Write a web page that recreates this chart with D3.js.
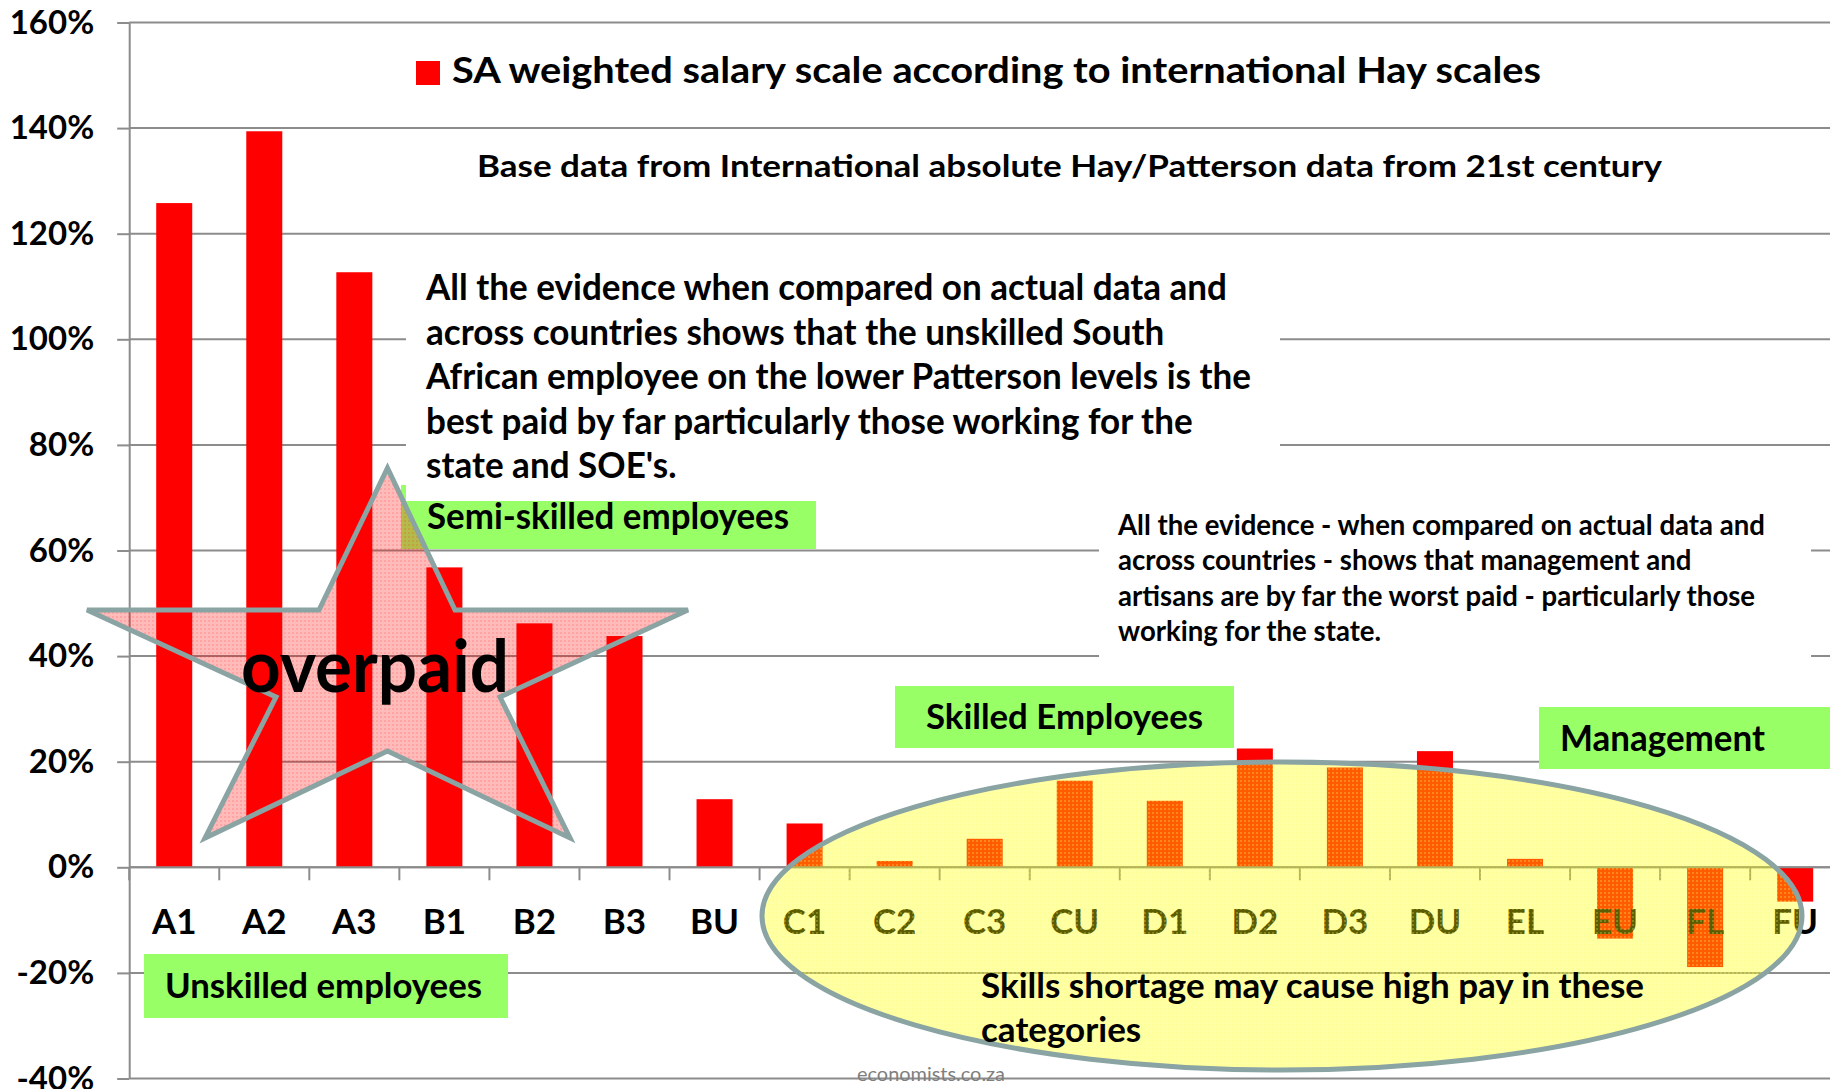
<!DOCTYPE html>
<html>
<head>
<meta charset="utf-8">
<script src="https://cdn.jsdelivr.net/npm/d3@7"></script>
<style>
  body { margin: 0; background: #fff; }
  text { font-family: Lato, "Open Sans", sans-serif; }
</style>
</head>
<body>
<div id="graph-container"></div>
<script>
const categories = ['A1','A2','A3','B1','B2','B3','BU','C1','C2','C3','CU','D1','D2','D3','DU','EL','EU','FL','FU'];
const values = [125.8, 139.4, 112.7, 56.8, 46.2, 43.8, 12.9, 8.3, 1.2, 5.4, 16.4, 12.6, 22.5, 18.9, 22.0, 1.6, -13.5, -18.9, -6.5];
const yTicks = [-40, -20, 0, 20, 40, 60, 80, 100, 120, 140, 160];
const seriesName = 'SA weighted salary scale according to international Hay scales';
const subtitle = 'Base data from International absolute Hay/Patterson data from 21st century';
const noteLeft = ['All the evidence when compared on actual data and',
  'across countries shows that the unskilled South',
  'African employee on the lower Patterson levels is the',
  'best paid by far particularly those working for the',
  "state and SOE's."];
const noteRight = ['All the evidence - when compared on actual data and',
  'across countries - shows that management and',
  'artisans are by far the worst paid - particularly those',
  'working for the state.'];
const noteShortage = ['Skills shortage may cause high pay in these', 'categories'];

const main = () => {
  const width = 1830;
  const height = 1089;
  const GRID = '#8c8c8c';
  const GREEN = '#99ff66';
  const SHAPE = '#8aa3a3';
  const dataToJoin = [1];

  const svg = d3.select('#graph-container').selectAll('svg#svg-container')
    .data(dataToJoin)
    .join('svg')
    .attr('id', 'svg-container')
    .attr('width', width)
    .attr('height', height)
    .attr('style', 'background:white;display:block');

  const xScale = d3.scaleBand().domain(categories).range([129.2, 1840.2])
    .paddingInner(0.6).paddingOuter(0.3);
  const yScale = d3.scaleLinear().domain([-40, 160]).range([1078.5, 22.5]);
  const step = xScale.step();

  // patterns for the shapes
  const defs = svg.append('defs');
  const starPat = defs.append('pattern').attr('id', 'star-fill')
    .attr('width', 4).attr('height', 4).attr('patternUnits', 'userSpaceOnUse');
  starPat.append('rect').attr('width', 4).attr('height', 4).attr('fill', 'rgba(255,0,0,0.27)');
  starPat.append('rect').attr('width', 2).attr('height', 2).attr('fill', 'rgba(255,0,0,0.12)');
  const ellPat = defs.append('pattern').attr('id', 'ell-fill')
    .attr('width', 4).attr('height', 4).attr('patternUnits', 'userSpaceOnUse');
  ellPat.append('rect').attr('width', 4).attr('height', 4).attr('fill', 'rgba(255,255,0,0.36)');
  ellPat.append('rect').attr('width', 2).attr('height', 2).attr('fill', 'rgba(255,255,120,0.25)');

  // grid lines
  svg.append('g').attr('class', 'grid')
    .selectAll('line')
    .data(yTicks)
    .join('line')
    .attr('x1', xScale.range()[0]).attr('x2', width)
    .attr('y1', d => yScale(d)).attr('y2', d => yScale(d))
    .attr('stroke', GRID).attr('stroke-width', 2);

  // y axis
  const yAxis = svg.append('g')
    .attr('transform', `translate(${xScale.range()[0]},0)`)
    .call(d3.axisLeft(yScale).tickValues(yTicks).tickSize(12).tickSizeOuter(0).tickPadding(23)
      .tickFormat(d => d + '%'));
  yAxis.select('.domain').attr('stroke', GRID).attr('stroke-width', 2);
  yAxis.selectAll('.tick line').attr('stroke', GRID).attr('stroke-width', 2);
  yAxis.selectAll('.tick text')
    .attr('font-size', 33).attr('font-weight', 'bold').attr('fill', '#000')
    .attr('font-family', 'Lato, sans-serif');

  // bars
  svg.append('g').attr('class', 'bars')
    .selectAll('rect')
    .data(values)
    .join('rect')
    .attr('x', (d, i) => xScale(categories[i]))
    .attr('width', xScale.bandwidth())
    .attr('y', d => yScale(Math.max(0, d)))
    .attr('height', d => Math.abs(yScale(d) - yScale(0)))
    .attr('fill', '#ff0000');

  // x axis line and category ticks (between categories)
  const xAxis = svg.append('g').attr('class', 'x-axis');
  xAxis.append('line')
    .attr('x1', xScale.range()[0]).attr('x2', width)
    .attr('y1', yScale(0)).attr('y2', yScale(0))
    .attr('stroke', GRID).attr('stroke-width', 2);
  xAxis.selectAll('line.tick')
    .data(categories)
    .join('line')
    .attr('class', 'tick')
    .attr('x1', d => xScale(d) - step * 0.3).attr('x2', d => xScale(d) - step * 0.3)
    .attr('y1', yScale(0)).attr('y2', yScale(0) + 13)
    .attr('stroke', GRID).attr('stroke-width', 2);
  xAxis.selectAll('text.cat')
    .data(categories)
    .join('text')
    .attr('class', 'cat')
    .attr('x', d => xScale(d) + xScale.bandwidth() / 2)
    .attr('y', 934)
    .attr('text-anchor', 'middle')
    .attr('font-size', 35).attr('font-weight', 'bold')
    .text(d => d);

  const label = (g, str, x, y, size, target, opts = {}) => {
    const t = g.append('text')
      .attr('x', x).attr('y', y)
      .attr('font-size', size)
      .attr('font-weight', opts.weight || 'bold')
      .attr('fill', opts.fill || '#000')
      .text(str);
    if (target) t.attr('textLength', target).attr('lengthAdjust', 'spacingAndGlyphs');
    return t;
  };

  const block = (g, lines, x, y0, lh, size, refIndex, refWidth) => {
    const texts = lines.map((s, i) => label(g, s, x, y0 + i * lh, size));
    const ratio = refWidth / texts[refIndex].node().getComputedTextLength();
    texts.forEach(t => {
      const w = t.node().getComputedTextLength();
      t.attr('textLength', w * ratio).attr('lengthAdjust', 'spacingAndGlyphs');
    });
  };

  const notes = svg.append('g').attr('class', 'notes');

  // legend and subtitle
  notes.append('rect').attr('x', 416).attr('y', 61).attr('width', 24).attr('height', 24).attr('fill', '#ff0000');
  label(notes, seriesName, 452, 83, 37, 1089);
  label(notes, subtitle, 477, 177, 31, 1185);

  // semi-skilled box sits under the left note
  notes.append('rect').attr('x', 401).attr('y', 485).attr('width', 415).attr('height', 64).attr('fill', GREEN);
  notes.append('rect').attr('x', 406).attr('y', 246).attr('width', 874).attr('height', 255).attr('fill', '#fff');
  block(notes, noteLeft, 426, 300, 44.5, 36, 2, 825);
  label(notes, 'Semi-skilled employees', 427, 529, 36, 362);

  notes.append('rect').attr('x', 1099).attr('y', 502).attr('width', 712).attr('height', 166).attr('fill', '#fff');
  block(notes, noteRight, 1118, 535, 35.4, 28, 0, 647);

  notes.append('rect').attr('x', 144).attr('y', 954).attr('width', 364).attr('height', 64).attr('fill', GREEN);
  label(notes, 'Unskilled employees', 165, 998, 35, 317);
  notes.append('rect').attr('x', 895).attr('y', 686).attr('width', 339).attr('height', 62).attr('fill', GREEN);
  label(notes, 'Skilled Employees', 926, 729, 35, 277);
  notes.append('rect').attr('x', 1539).attr('y', 707).attr('width', 300).attr('height', 62).attr('fill', GREEN);
  label(notes, 'Management', 1560, 751, 36, 205);

  // star
  const starPts = [[387.5, 468], [455, 610], [688, 610], [500, 697], [570, 838], [387.5, 751],
    [205, 838], [276, 697], [87, 610], [319, 610]];
  svg.append('polygon')
    .attr('points', starPts.map(p => p.join(',')).join(' '))
    .attr('fill', 'url(#star-fill)')
    .attr('stroke', SHAPE).attr('stroke-width', 5).attr('stroke-linejoin', 'miter');
  label(svg, 'overpaid', 241, 692, 72, 268);

  // ellipse
  svg.append('ellipse')
    .attr('cx', 1282).attr('cy', 916).attr('rx', 520).attr('ry', 154)
    .attr('fill', 'url(#ell-fill)')
    .attr('stroke', SHAPE).attr('stroke-width', 5);
  block(svg, noteShortage, 981, 998, 44, 34, 0, 663);

  label(svg, 'economists.co.za', 857, 1081, 20, 148, { weight: 'normal', fill: '#7f7f7f' });
};

main();
</script>
</body>
</html>
